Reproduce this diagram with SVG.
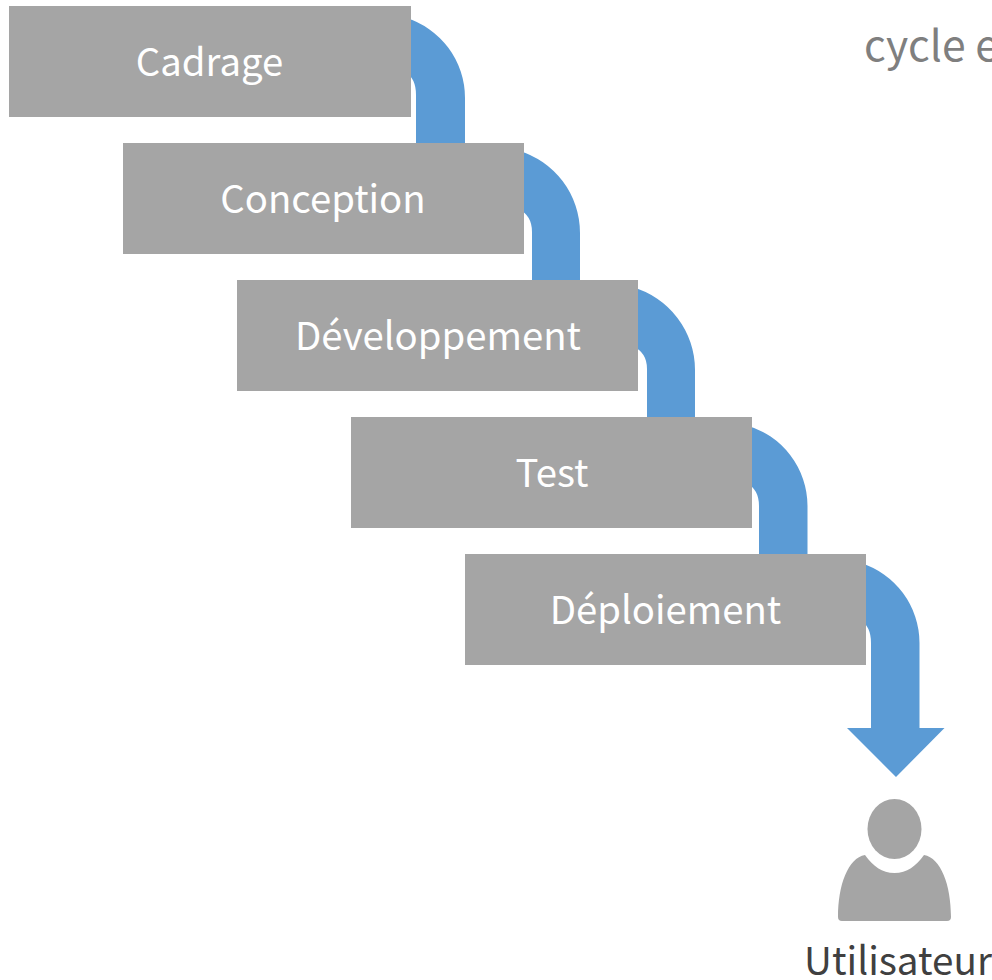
<svg xmlns="http://www.w3.org/2000/svg" width="992" height="980" viewBox="0 0 992 980">
<style>
text{font-family:"Noto Sans CJK SC","Noto Sans",sans-serif;font-size:38.67px}
.b{fill:#a5a5a5}
.l{fill:#fff;text-anchor:middle;font-size:38.3px}
.a{fill:#5b9bd5}
</style>
<rect width="992" height="980" fill="#fff"/>
<g id="connectors">
<path class="a" d="M405 17.500A84 84 0 0 1 465 98V150H416V95Q416 78 405 72Z"/>
<path class="a" d="M518 150.400A86 86 0 0 1 580 233V287H532V232Q532 215 518 209Z"/>
<path class="a" d="M632 287.100A86 86 0 0 1 695 370V424H647V369Q647 352 632 346Z"/>
<path class="a" d="M746 425.200A84 84 0 0 1 807.500 506V561H759V506Q759 489 746 483Z"/>
<path class="a" d="M860 562.800A84 84 0 0 1 919.500 643V728H944.500L896 777L847 728H871V643Q871 626 860 620Z"/>
</g>
<g id="cadrage"><rect class="b" x="9" y="6" width="402" height="111"/><text class="l" x="209.500" y="76">Cadrage</text></g>
<g id="conception"><rect class="b" x="123" y="143" width="401" height="111"/><text class="l" x="323" y="213">Conception</text></g>
<g id="developpement"><rect class="b" x="237" y="280" width="401" height="111"/><text class="l" x="438" y="350">Développement</text></g>
<g id="test"><rect class="b" x="351" y="417" width="401" height="111"/><text class="l" x="552" y="487">Test</text></g>
<g id="deploiement"><rect class="b" x="465" y="554" width="401" height="111"/><text class="l" x="665.500" y="624">Déploiement</text></g>
<g id="utilisateur">
<ellipse class="b" cx="894.500" cy="829" rx="27" ry="30"/>
<path class="b" d="M865 855C873 866 882 873 894.500 873C907 873 916 866 924 855C941 858 951 885 951 917Q951 921 947 921H842Q838 921 838 917C838 885 848 858 865 855Z"/>
<text x="898" y="975" text-anchor="middle" fill="#404040">Utilisateur</text>
</g>
<text x="864" y="61" fill="#7f7f7f" style="font-size:42.67px">cycle e</text>
</svg>
